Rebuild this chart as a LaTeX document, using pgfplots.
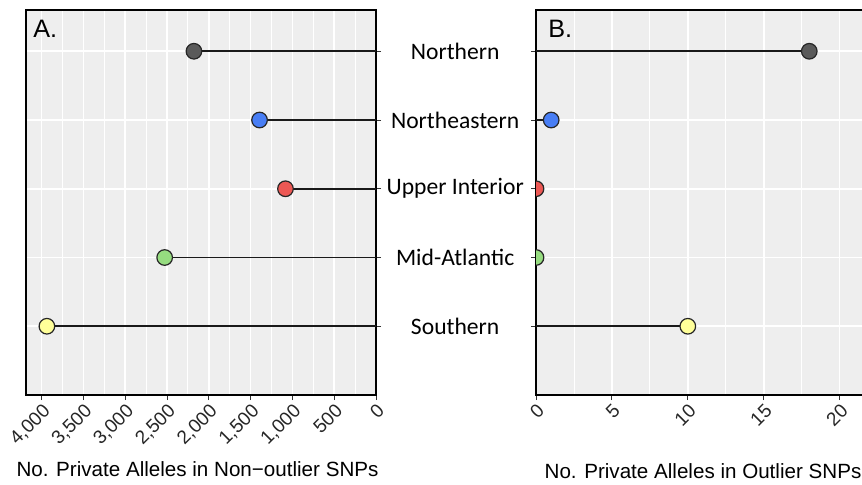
\documentclass[border=0pt]{standalone}
\usepackage{pgfplots}
\pgfplotsset{compat=1.18}
\usepackage{fontspec}
\setmainfont{Liberation Sans}
\newfontfamily\calibri{Carlito}
\definecolor{panelbg}{RGB}{238,238,238}
\definecolor{cN}{RGB}{90,90,90}
\definecolor{cNE}{RGB}{72,126,245}
\definecolor{cUI}{RGB}{236,88,84}
\definecolor{cMA}{RGB}{150,220,128}
\definecolor{cS}{RGB}{255,255,153}
\pgfplotsset{
  lolli/.style={black!90, line width=0.8pt, mark=*, mark indices={2}, mark size=3.9pt,
    mark options={draw=black!85, line width=0.6pt, fill=#1}},
  common/.style={
    scale only axis, height=192.5pt, anchor=south west,
    axis background/.style={fill=panelbg},
    axis line style={black, line width=0.7pt},
    grid=both,
    major grid style={white, line width=0.8pt},
    minor grid style={white, line width=0.45pt},
    ymin=0, ymax=5.6, ytick={1,2,3,4,5}, yticklabels={},
    tick align=outside, major tick length=2.5pt,
    tick style={black!80, line width=0.5pt},
    minor tick length=0pt,
    xtick pos=left,
    /pgf/number format/assume math mode=true,
    /pgf/number format/1000 sep={,},
    xticklabel style={font=\fontsize{9.5}{11}\selectfont, text=black!85, rotate=45, anchor=north east, inner sep=0.8pt},
    xlabel style={font=\fontsize{10.3}{12}\selectfont, anchor=center},
  }
}
\begin{document}
\begin{tikzpicture}
\useasboundingbox (0,0) rectangle (431pt,242pt);
\begin{axis}[common,
  at={(13pt,44.5pt)}, width=175pt,
  x dir=reverse, xmin=0, xmax=4187,
  xtick={0,500,...,4000}, minor x tick num=1,
  ytick pos=right, clip=false,
  xlabel={No. Private Alleles in Non\textminus outlier SNPs},
  xlabel style={at={(axis description cs:0.49,-0.192)}},
]
\addplot[lolli=cN] coordinates {(0,5) (2178,5)};
\addplot[lolli=cNE] coordinates {(0,4) (1393,4)};
\addplot[lolli=cUI] coordinates {(0,3) (1083,3)};
\addplot[lolli=cMA] coordinates {(0,2) (2528,2)};
\addplot[lolli=cS] coordinates {(0,1) (3937,1)};
\node[anchor=north west, inner sep=0pt, font=\fontsize{12.6}{14}\selectfont] at (axis description cs:0.02,0.974) {A.};
\node[font=\calibri\fontsize{11.8}{14}\selectfont] at (axis cs:-947,5) {Northern};
\node[font=\calibri\fontsize{11.8}{14}\selectfont] at (axis cs:-947,4) {Northeastern};
\node[font=\calibri\fontsize{11.8}{14}\selectfont] at (axis cs:-947,3) {Upper Interior};
\node[font=\calibri\fontsize{11.8}{14}\selectfont] at (axis cs:-947,2) {Mid-Atlantic};
\node[font=\calibri\fontsize{11.8}{14}\selectfont] at (axis cs:-947,1) {Southern};
\end{axis}
\begin{axis}[common,
  at={(268pt,44.5pt)}, width=167pt,
  xmin=0, xmax=22,
  xtick={0,5,...,20}, minor x tick num=1,
  ytick pos=left, clip marker paths=true,
  xlabel={No. Private Alleles in Outlier SNPs},
  xlabel style={at={(axis description cs:0.5,-0.197)}},
]
\addplot[lolli=cN] coordinates {(0,5) (18,5)};
\addplot[lolli=cNE] coordinates {(0,4) (1,4)};
\addplot[lolli=cUI] coordinates {(0,3) (0,3)};
\addplot[lolli=cMA] coordinates {(0,2) (0,2)};
\addplot[lolli=cS] coordinates {(0,1) (10,1)};
\node[anchor=north west, inner sep=0pt, font=\fontsize{12.6}{14}\selectfont] at (axis description cs:0.036,0.974) {B.};
\end{axis}
\end{tikzpicture}
\end{document}
